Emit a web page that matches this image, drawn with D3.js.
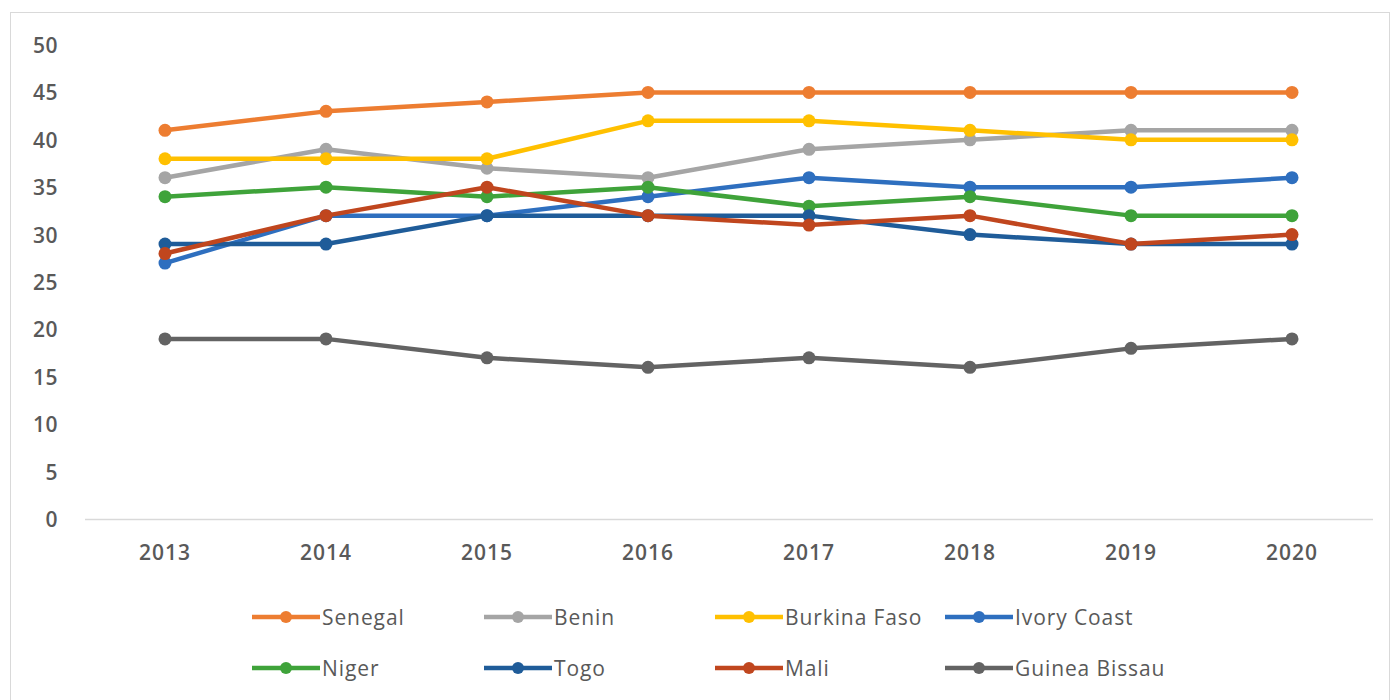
<!DOCTYPE html>
<html><head><meta charset="utf-8">
<script src="https://cdn.jsdelivr.net/npm/d3@7"></script>
<style>
html,body{margin:0;padding:0;background:#fff;}
svg{display:block;}
</style></head>
<body>
<svg id="chart" width="1394" height="700"></svg>
<script>
const years = ["2013","2014","2015","2016","2017","2018","2019","2020"];
const yTicks = [0,5,10,15,20,25,30,35,40,45,50];
const seriesNames = ["Senegal","Benin","Burkina Faso","Ivory Coast","Niger","Togo","Mali","Guinea Bissau"];
const senegal      = [41,43,44,45,45,45,45,45];
const benin        = [36,39,37,36,39,40,41,41];
const burkinaFaso  = [38,38,38,42,42,41,40,40];
const ivoryCoast   = [27,32,32,34,36,35,35,36];
const niger        = [34,35,34,35,33,34,32,32];
const togo         = [29,29,32,32,32,30,29,29];
const mali         = [28,32,35,32,31,32,29,30];
const guineaBissau = [19,19,17,16,17,16,18,19];
const seriesColors = ["#ED7D31","#A5A5A5","#FFC000","#2E6FBF","#3FA33A","#1F5C99","#C0461E","#636363"];

const seriesValues = [senegal,benin,burkinaFaso,ivoryCoast,niger,togo,mali,guineaBissau];
const series = seriesNames.map((n,i)=>({name:n,values:seriesValues[i],color:seriesColors[i]}));

const svg = d3.select("#chart");
svg.append("rect").attr("x",10.5).attr("y",12.5).attr("width",1379).attr("height",700)
  .attr("fill","#fff").attr("stroke","#d9d9d9").attr("stroke-width",1);

const x = d3.scaleBand().domain(years).range([84.5,1372.5]);
const y = d3.scaleLinear().domain([0,50]).range([519,45]);

const font = "'Open Sans', Lato, sans-serif";
const textColor = "#595959";

const yAxis = d3.axisLeft(y).tickValues(yTicks).tickSize(0).tickPadding(0);
const gy = svg.append("g").attr("transform","translate(58,0)").call(yAxis);
gy.select(".domain").remove();
gy.selectAll("text").attr("font-family",font).attr("font-size",21).attr("font-weight",600)
  .attr("letter-spacing",0.5).attr("fill",textColor).attr("text-anchor","end").attr("dy","0.36em");

const xAxis = d3.axisBottom(x).tickSize(0).tickPadding(26);
const gx = svg.append("g").attr("transform",`translate(0,${y(0)})`).call(xAxis);
gx.select(".domain").attr("stroke","#d9d9d9").attr("stroke-width",1.5);
gx.selectAll("text").attr("font-family",font).attr("font-size",21).attr("font-weight",600)
  .attr("letter-spacing",1).attr("fill",textColor);

const cx = d => x(d) + x.bandwidth()/2;
const line = d3.line().x((d,i)=>cx(years[i])).y(d=>y(d));

const g = svg.append("g");
series.forEach(s=>{
  const sg = g.append("g");
  sg.append("path").attr("d",line(s.values)).attr("fill","none")
    .attr("stroke",s.color).attr("stroke-width",4.5).attr("stroke-linejoin","round").attr("stroke-linecap","round");
  sg.selectAll("circle").data(s.values).join("circle")
    .attr("cx",(d,i)=>cx(years[i])).attr("cy",d=>y(d)).attr("r",6.5).attr("fill",s.color);
});

const legCols = [252,484,715,945];
const legRows = [617,668];
const lg = svg.append("g");
series.forEach((s,i)=>{
  const lx = legCols[i%4], ly = legRows[Math.floor(i/4)];
  const it = lg.append("g").attr("transform",`translate(${lx},${ly})`);
  it.append("line").attr("x1",0).attr("x2",68).attr("y1",0).attr("y2",0)
    .attr("stroke",s.color).attr("stroke-width",4.5);
  it.append("circle").attr("cx",34).attr("cy",0).attr("r",6).attr("fill",s.color);
  it.append("text").attr("x",70).attr("y",0).attr("dy","0.36em")
    .attr("font-family",font).attr("font-size",21).attr("letter-spacing",0.9)
    .attr("fill",textColor).text(s.name);
});
</script>
</body></html>
